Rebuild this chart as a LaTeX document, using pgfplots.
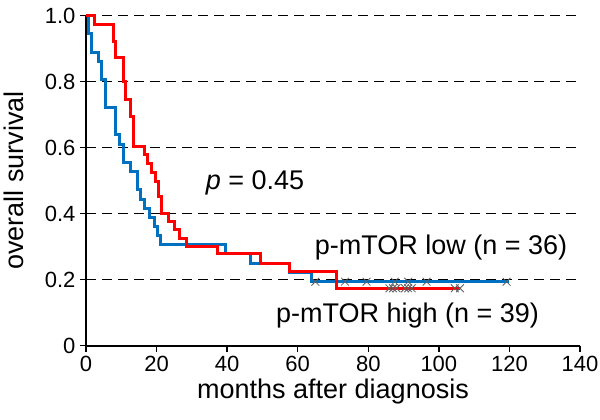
\documentclass[border=0pt]{standalone}
\usepackage{fontspec}
\setmainfont{Liberation Sans}
\usepackage{pgfplots}
\pgfplotsset{compat=1.18}
\definecolor{kmblue}{RGB}{0,112,192}
\definecolor{kmred}{RGB}{255,0,0}
\definecolor{cens}{RGB}{95,95,95}
\begin{document}
\begin{tikzpicture}
\begin{axis}[
  at={(0,0)}, anchor=south west,
  scale only axis, width=494bp, height=330bp,
  xmin=0, xmax=140, ymin=0, ymax=1,
  axis x line=bottom, axis y line=left,
  axis line style={-, line width=2.2bp, black},
  xtick={0,20,40,60,80,100,120,140},
  ytick={0,0.2,0.4,0.6,0.8,1.0},
  yticklabels={0,0.2,0.4,0.6,0.8,1.0},
  tick align=outside,
  major tick length=6bp,
  tick style={line width=1.5bp, black},
  ymajorgrids,
  major grid style={black, line width=1.3bp, dash pattern=on 10bp off 6bp},
  font=\fontsize{27bp}{32bp}\selectfont,
  tick label style={font=\fontsize{22bp}{26bp}\selectfont},
  /pgf/number format/assume math mode=true,
  xticklabel style={yshift=-1bp},
  yticklabel style={xshift=-1bp},
  xlabel={months after diagnosis},
  ylabel={overall survival},
  xlabel style={at={(axis description cs:0.5,0)}, anchor=center, yshift=-46bp},
  ylabel style={at={(axis description cs:0,0.5)}, anchor=center, yshift=72bp},
  clip=false,
]
\addplot[const plot, kmblue, line width=3bp] coordinates {
(0,1) (0.7,0.945) (1.6,0.889) (3.5,0.861) (4.4,0.806) (5.6,0.722) (8.5,0.639) (9.5,0.611) (10.5,0.556) (12.7,0.528) (14.5,0.472) (15.5,0.444) (16.7,0.417) (18.1,0.389) (19.3,0.361) (20.2,0.333) (21.0,0.306) (39.4,0.278) (46.5,0.25) (57.6,0.222) (63.9,0.194) (120,0.194)
};
\addplot[const plot, kmred, line width=3bp] coordinates {
(0,1) (2.5,0.974) (7.7,0.923) (8.5,0.872) (10.6,0.80) (11.3,0.745) (12.5,0.695) (13.4,0.603) (16.6,0.578) (17.5,0.553) (18.5,0.526) (19.6,0.497) (20.5,0.452) (21.3,0.401) (23.5,0.376) (25.0,0.351) (26.5,0.325) (28.5,0.30) (37.3,0.278) (49.4,0.25) (57.6,0.225) (71.0,0.174) (106,0.174)
};
\addplot[only marks, mark=x, mark size=5.5bp, cens, line width=0.8bp] coordinates {
(65,0.194) (73.4,0.194) (79.5,0.194) (87.5,0.194) (91.3,0.194) (96.5,0.194) (119.2,0.194)
};
\addplot[only marks, mark=x, mark size=5.5bp, cens, line width=0.8bp] coordinates {
(86,0.174) (87,0.174) (88,0.174) (90.4,0.174) (91.3,0.174) (92.3,0.174) (104.5,0.174) (106,0.174)
};
\node[anchor=center] at (axis cs:47.9,0.493) {\textit{p} = 0.45};
\node[anchor=center] at (axis cs:100.6,0.299) {p-mTOR low (n = 36)};
\node[anchor=center] at (axis cs:91.1,0.09) {p-mTOR high (n = 39)};
\end{axis}
\pgfresetboundingbox
\path (-86bp,-74.3bp) rectangle (514bp,345.7bp);
\end{tikzpicture}
\end{document}
